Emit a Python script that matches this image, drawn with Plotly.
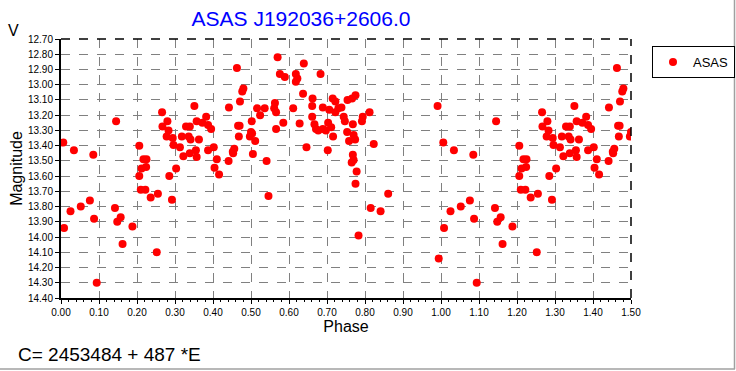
import plotly.graph_objects as go

# Phase / magnitude pairs (phase in 0..1)
phase = [0.006, 0.034, 0.085, 0.145, 0.008, 0.025, 0.052, 0.076, 0.087, 0.094,
         0.142, 0.148, 0.157, 0.162, 0.188,
         0.206, 0.206, 0.217, 0.225, 0.212, 0.224, 0.210, 0.222, 0.236, 0.255,
         0.252, 0.266, 0.267, 0.280, 0.283, 0.278, 0.294, 0.296, 0.285, 0.292, 0.303,
         0.313, 0.318, 0.329, 0.336, 0.339, 0.341, 0.351, 0.357, 0.363, 0.322,
         0.339, 0.355, 0.357, 0.382, 0.372, 0.387, 0.395, 0.387,
         0.402, 0.410, 0.404, 0.416, 0.442, 0.441, 0.452, 0.456, 0.453, 0.463,
         0.471, 0.477, 0.480, 0.466, 0.470, 0.468, 0.497, 0.500, 0.503, 0.502, 0.505, 0.511,
         0.516, 0.524, 0.536, 0.541, 0.546, 0.561, 0.563, 0.566, 0.566, 0.570,
         0.576, 0.585, 0.589,
         0.611, 0.618, 0.622, 0.618, 0.628, 0.637, 0.639, 0.646, 0.661, 0.661,
         0.662, 0.667, 0.671, 0.677, 0.683, 0.689, 0.689, 0.697,
         0.702, 0.703, 0.706, 0.711, 0.715, 0.716, 0.722, 0.722, 0.730, 0.738,
         0.744, 0.747, 0.753, 0.754, 0.758, 0.766, 0.765, 0.768, 0.768, 0.770,
         0.770, 0.774, 0.775, 0.775, 0.778, 0.783, 0.792, 0.794,
         0.812, 0.815, 0.823, 0.841, 0.861, 0.991, 0.994]
mag = [13.38, 13.43, 13.46, 13.24, 13.94, 13.83, 13.80, 13.76, 13.88, 14.30,
       13.81, 13.90, 13.87, 14.045, 13.93,
       13.40, 13.60, 13.49, 13.49, 13.55, 13.54, 13.69, 13.69, 13.74, 13.715,
       14.10, 13.18, 13.275, 13.24, 13.30, 13.34, 13.35, 13.395, 13.60, 13.755, 13.55,
       13.41, 13.34, 13.275, 13.34, 13.275, 13.36, 13.14, 13.24, 13.36, 13.47,
       13.45, 13.43, 13.475, 13.21, 13.25, 13.265, 13.29, 13.43,
       13.41, 13.49, 13.545, 13.59, 13.15, 13.50, 13.44, 13.42, 13.45, 12.89,
       13.11, 13.045, 13.025, 13.27, 13.27, 13.34, 13.34, 13.31, 13.32, 13.24, 13.455, 13.37,
       13.155, 13.20, 13.155, 13.50, 13.73, 13.155, 13.12, 13.18, 13.29, 12.82,
       12.93, 13.25, 12.95,
       13.155, 12.93, 12.96, 12.98, 13.255, 13.06, 12.86, 13.41, 13.14, 13.21,
       13.09, 13.26, 13.29, 13.30, 12.93, 13.15, 13.29, 13.30,
       13.43, 13.25, 13.165, 13.28, 13.09, 13.34, 13.11, 13.18, 13.155, 13.15,
       13.21, 13.24, 13.31, 13.10, 13.37, 13.09, 13.51, 13.26, 13.46, 13.33,
       13.495, 13.36, 13.07, 13.65, 13.57, 13.99, 13.24, 13.21,
       13.18, 13.81, 13.39, 13.83, 13.715, 13.14, 14.14]

# Extend to phase 1.5 by repeating the first half of the cycle
px = list(phase) + [p + 1 for p in phase if p <= 0.5]
py = list(mag) + [m for p, m in zip(phase, mag) if p <= 0.5]

x_ticks = [i / 10 for i in range(0, 16)]
y_ticks = [12.7 + i / 10 for i in range(0, 18)]

FONT = "Liberation Sans, Arial, sans-serif"

W, H = 736, 371
L, R, T, B = 61, 631, 39, 298
PW, PH = R - L, B - T


def pxx(x):
    return (x - L) / PW


def pyy(y):
    return (B - y) / PH


fig = go.Figure()
fig.add_trace(go.Scatter(
    x=px, y=py, mode="markers", name="ASAS",
    marker=dict(color="#ff0000", size=8, symbol="circle", line=dict(width=0)),
))

fig.update_layout(
    width=W, height=H,
    margin=dict(l=L, r=W - R, t=T, b=H - B, autoexpand=False),
    paper_bgcolor="white", plot_bgcolor="white",
    font=dict(family=FONT, color="black"),
    title=dict(text="ASAS J192036+2606.0", x=301 / W, xref="container", xanchor="center",
               y=1 - 19 / H, yref="container", yanchor="middle",
               font=dict(family=FONT, size=21, color="#0000ff")),
    showlegend=True,
    legend=dict(x=pxx(652), y=pyy(46), xanchor="left", yanchor="top",
                bordercolor="black", borderwidth=1, bgcolor="white",
                font=dict(family=FONT, size=13),
                itemwidth=30, tracegroupgap=0),
    xaxis=dict(range=[0, 1.5], tickvals=x_ticks,
               ticktext=[f"{v:.2f}" for v in x_ticks],
               showgrid=True, gridcolor="#808080", griddash="dash", gridwidth=1,
               showline=True, linecolor="black", linewidth=2, mirror=False,
               ticks="outside", ticklen=4, tickcolor="black",
               minor=dict(dtick=0.02, ticks="outside", ticklen=2, tickcolor="black", showgrid=False),
               tickfont=dict(family=FONT, size=10),
               title=dict(text="Phase", font=dict(family=FONT, size=16), standoff=3),
               automargin=False, zeroline=False, fixedrange=True),
    yaxis=dict(range=[14.4, 12.7], tickvals=y_ticks,
               ticktext=[f"{v:.2f}" for v in y_ticks],
               showgrid=True, gridcolor="#808080", griddash="dash", gridwidth=1,
               showline=True, linecolor="black", linewidth=2, mirror=False,
               ticks="outside", ticklen=4, tickcolor="black",
               tickfont=dict(family=FONT, size=10),
               title=dict(text="Magnitude", font=dict(family=FONT, size=16), standoff=1),
               automargin=False, zeroline=False, fixedrange=True),
)

# dashed top and right frame
fig.add_shape(type="line", xref="paper", yref="paper", x0=0, x1=1, y0=1, y1=1,
              line=dict(color="black", width=1.5, dash="dash"))
fig.add_shape(type="line", xref="paper", yref="paper", x0=1, x1=1, y0=0, y1=1,
              line=dict(color="black", width=1.5, dash="dash"))

# outer gray border (right and bottom)
fig.add_shape(type="line", xref="paper", yref="paper",
              x0=pxx(0), x1=pxx(735), y0=pyy(369), y1=pyy(369),
              line=dict(color="#a0a0a0", width=1.5))
fig.add_shape(type="line", xref="paper", yref="paper",
              x0=pxx(734.5), x1=pxx(734.5), y0=pyy(369), y1=pyy(0),
              line=dict(color="#a0a0a0", width=1.5))

fig.add_annotation(text="V", xref="paper", yref="paper",
                   x=pxx(14), y=pyy(30),
                   xanchor="center", yanchor="middle", showarrow=False,
                   font=dict(family=FONT, size=16, color="black"))
fig.add_annotation(text="C= 2453484 + 487 *E", xref="paper", yref="paper",
                   x=pxx(16), y=pyy(354),
                   xanchor="left", yanchor="middle", showarrow=False,
                   font=dict(family=FONT, size=19, color="black"))

fig.write_html("out.html", config={"displayModeBar": False},
               post_script="document.body.style.margin='0';document.body.style.padding='0';")
